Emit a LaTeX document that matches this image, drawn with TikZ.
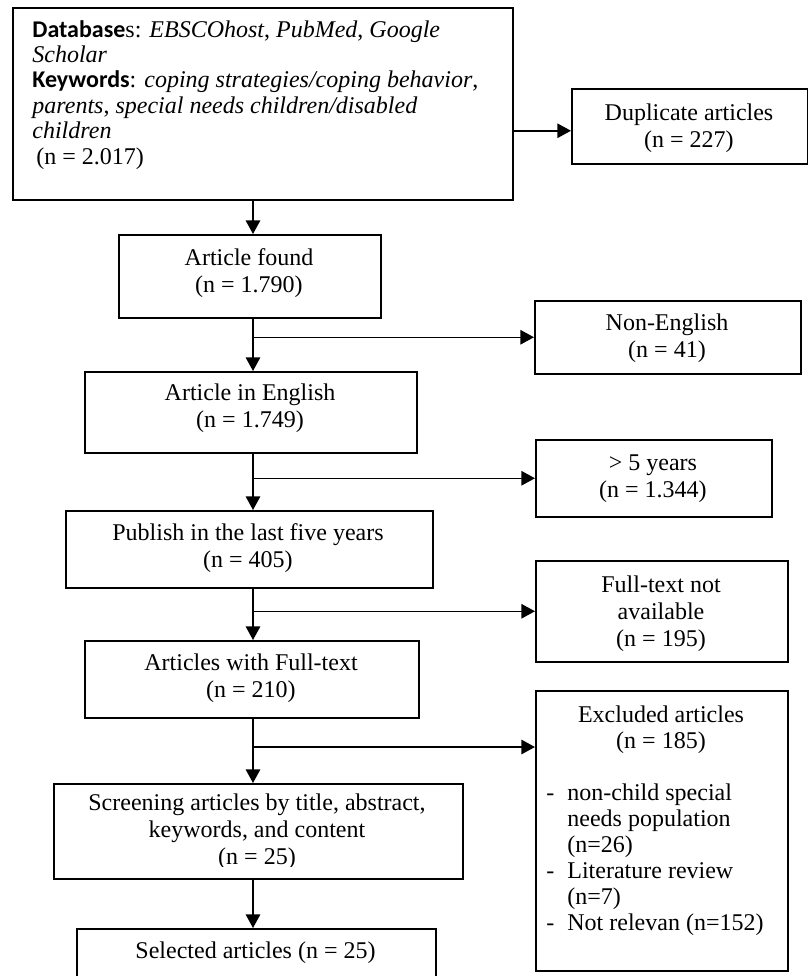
\documentclass[tikz,border=0pt]{standalone}
\usepackage{fontspec}
\setmainfont{Liberation Serif}
\newfontfamily\bsans{Carlito}
\usetikzlibrary{arrows.meta,calc}
\begin{document}
\begin{tikzpicture}[x=0.5pt,y=-0.5pt,
  box/.style={draw, line width=0.75pt, rectangle, inner sep=0pt, anchor=north west},
  txt/.style={inner sep=0pt, align=center, font=\fontsize{12}{13.5}\selectfont, anchor=north},
  arr/.style={line width=0.75pt, -{Triangle[length=6.8pt,width=7.2pt]}}]
\useasboundingbox (0,0) rectangle (808,976);
\coordinate (trunk) at (253,0);
\coordinate (b4) at (0,747);
% boxes
\node[box, minimum width=250pt, minimum height=96pt] (search) at (12,7) {};
\node[box, minimum width=118pt, minimum height=37.5pt] (dup) at (571,88) {};
\node[box, minimum width=131pt, minimum height=41.5pt] (found) at (118,234) {};
\node[box, minimum width=133pt, minimum height=36.5pt] (noneng) at (534,300) {};
\node[box, minimum width=166pt, minimum height=40.5pt] (english) at (84,371) {};
\node[box, minimum width=118pt, minimum height=38.5pt] (five) at (535,439) {};
\node[box, minimum width=183.5pt, minimum height=38.5pt] (publish) at (65,510) {};
\node[box, minimum width=126pt, minimum height=50.5pt] (ftna) at (535,560) {};
\node[box, minimum width=167pt, minimum height=38.5pt] (fulltext) at (84,640) {};
\node[box, minimum width=126pt, minimum height=140pt] (excl) at (535,690) {};
\node[box, minimum width=204.5pt, minimum height=47.5pt] (screen) at (53,783) {};
\node[box, minimum width=179.5pt, minimum height=33.5pt] (selected) at (76,928) {};
% texts
\node[txt, anchor=north west, align=left, font=\fontsize{12}{12.7}\selectfont] (searchT) at (32,19)
  {\strut{\bsans\bfseries Database}s: \textit{EBSCOhost}, \textit{PubMed}, \textit{Google}\\
   \textit{Scholar}\\
   {\bsans\bfseries Keywords}: \textit{coping strategies/coping behavior},\\
   \textit{parents}, \textit{special needs children/disabled}\\
   \textit{children}\\
   \hspace*{2pt}(n = 2.017)};
\node[txt] (dupT) at (689,101.1) {\strut Duplicate articles\\(n = 227)};
\node[txt] (foundT) at (249,246.1) {\strut Article found\\(n = 1.790)};
\node[txt] (nonengT) at (667,311.1) {\strut Non-English\\(n = 41)};
\node[txt] (englishT) at (250,381.1) {\strut Article in English\\(n = 1.749)};
\node[txt] (fiveT) at (653,451.1) {\strut > 5 years\\(n = 1.344)};
\node[txt] (publishT) at (248,521.1) {\strut Publish in the last five years\\(n = 405)};
\node[txt] (ftnaT) at (661,573.1) {\strut Full-text not\\available\\(n = 195)};
\node[txt] (fulltextT) at (251,651.1) {\strut Articles with Full-text\\(n = 210)};
\begin{scope}
\clip (53,783) rectangle (462,866);
\node[txt] (screenT) at (257,791.1) {\strut Screening articles by title, abstract,\\keywords, and content\\(n = 25)};
\end{scope}
\node[txt] (selectedT) at (255.5,939.1) {\strut Selected articles (n = 25)};
\node[txt, font=\fontsize{12}{13}\selectfont] (exclT) at (661,703.8) {\strut Excluded articles\\(n = 185)};
\node[txt, anchor=north west, align=left, font=\fontsize{12}{13}\selectfont] (exclL) at (546,781.8)
  {\strut\makebox[10.5pt][l]{-}non-child special\\
   \hspace*{10.5pt}needs population\\
   \hspace*{10.5pt}(n=26)\\
   \makebox[10.5pt][l]{-}Literature review\\
   \hspace*{10.5pt}(n=7)\\
   \makebox[10.5pt][l]{-}Not relevan (n=152)};
% connectors
\draw[arr] (search.east |- {$(dup.west)+(0,4.5)$}) -- ($(dup.west)+(0,4.5)$);
\draw[arr] (search.south -| trunk) -- (found.north -| trunk);
\draw[arr] (found.south -| trunk) -- (english.north -| trunk);
\draw[arr] (noneng.west -| trunk) -- (noneng.west);
\draw[arr] (english.south -| trunk) -- (publish.north -| trunk);
\draw[arr] (five.west -| trunk) -- (five.west);
\draw[arr] (publish.south -| trunk) -- (fulltext.north -| trunk);
\draw[arr] (ftna.west -| trunk) -- (ftna.west);
\draw[arr] (fulltext.south -| trunk) -- (screen.north -| trunk);
\draw[arr] (b4 -| trunk) -- (b4 -| excl.west);
\draw[arr] (screen.south -| trunk) -- (selected.north -| trunk);
\end{tikzpicture}
\end{document}
